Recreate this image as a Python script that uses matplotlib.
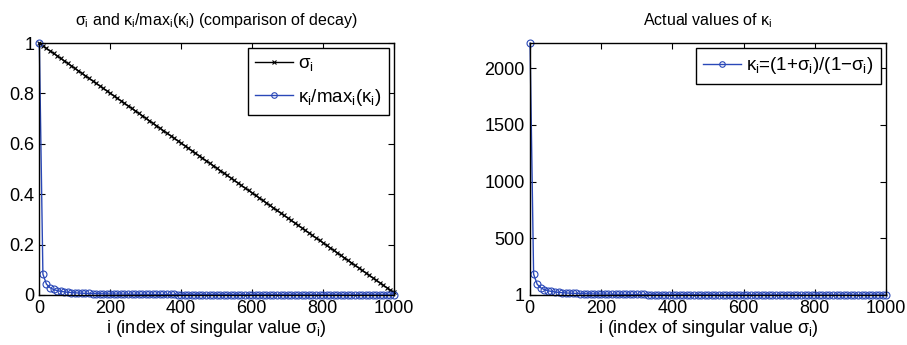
# sigma_i and kappa_i = (1+sigma_i)/(1-sigma_i)

import numpy as np
import matplotlib
matplotlib.use('Agg')
import matplotlib.pyplot as plt

plt.rcParams['font.family'] = ['Liberation Sans', 'DejaVu Sans']
plt.rcParams['mathtext.fontset'] = 'custom'
plt.rcParams['mathtext.rm'] = 'Liberation Sans'
plt.rcParams['mathtext.it'] = 'Liberation Sans'
plt.rcParams['mathtext.bf'] = 'Liberation Sans:bold'

# sampled indices (every 10th singular value plus the last one)
idx = list(range(1, 1000, 10)) + [1000]

# singular values
sigma = [0.9991, 0.9892, 0.9793, 0.9694, 0.9595, 0.9496, 0.9397, 0.9298, 0.9199, 0.9100,
         0.9001, 0.8902, 0.8803, 0.8704, 0.8605, 0.8506, 0.8407, 0.8308, 0.8209, 0.8110,
         0.8011, 0.7912, 0.7813, 0.7714, 0.7615, 0.7516, 0.7417, 0.7318, 0.7219, 0.7120,
         0.7021, 0.6922, 0.6823, 0.6724, 0.6625, 0.6526, 0.6427, 0.6328, 0.6229, 0.6130,
         0.6031, 0.5932, 0.5833, 0.5734, 0.5635, 0.5536, 0.5437, 0.5338, 0.5239, 0.5140,
         0.5041, 0.4942, 0.4843, 0.4744, 0.4645, 0.4546, 0.4447, 0.4348, 0.4249, 0.4150,
         0.4051, 0.3952, 0.3853, 0.3754, 0.3655, 0.3556, 0.3457, 0.3358, 0.3259, 0.3160,
         0.3061, 0.2962, 0.2863, 0.2764, 0.2665, 0.2566, 0.2467, 0.2368, 0.2269, 0.2170,
         0.2071, 0.1972, 0.1873, 0.1774, 0.1675, 0.1576, 0.1477, 0.1378, 0.1279, 0.1180,
         0.1081, 0.0982, 0.0883, 0.0784, 0.0685, 0.0586, 0.0487, 0.0388, 0.0289, 0.0190,
         0.0101]

sig = np.array(sigma)
kappa = (1 + sig) / (1 - sig)

blue = '#2a48b8'
fs = 13

fig = plt.figure(figsize=(9.07, 3.45), dpi=100)
ax1 = fig.add_axes([0.043, 0.145, 0.391, 0.730])
ax2 = fig.add_axes([0.584, 0.145, 0.393, 0.730])

ax1.plot(idx, sigma, '-x', color='black', lw=1, ms=3.5, mew=0.8, clip_on=False,
         label=r'$\sigma_{i}$')
ax1.plot(idx, kappa / kappa.max(), '-o', color=blue, lw=1, ms=5, mew=0.8,
         mfc='none', clip_on=False, label=r'$\kappa_{i}/\mathrm{max}_{i}(\kappa_{i})$')
ax1.set_xlim(0, 1000)
ax1.set_ylim(0, 1)
ax1.set_yticks([0, 0.2, 0.4, 0.6, 0.8, 1])
ax1.set_yticklabels(['0', '0.2', '0.4', '0.6', '0.8', '1'])
ax1.set_title(r'$\sigma_{i}$ and $\kappa_{i}/\mathrm{max}_{i}(\kappa_{i})$ (comparison of decay)',
              fontsize=11.5, pad=13)

ax2.plot(idx, kappa, '-o', color=blue, lw=1, ms=5, mew=0.8, mfc='none', clip_on=False,
         label=r'$\kappa_{i}$=(1+$\sigma_{i}$)/(1$-\sigma_{i}$)')
ax2.set_xlim(0, 1000)
ax2.set_ylim(1, kappa.max())
ax2.set_yticks([1, 500, 1000, 1500, 2000])
ax2.set_title(r'Actual values of $\kappa_{i}$', fontsize=11.5, pad=13)

for ax in (ax1, ax2):
    ax.set_xticks([0, 200, 400, 600, 800, 1000])
    ax.tick_params(direction='in', top=True, right=True, labelsize=fs, length=4, width=0.8)
    ax.set_xlabel(r'i (index of singular value $\sigma_{i}$)', fontsize=fs, labelpad=1)
    for s in ax.spines.values():
        s.set_linewidth(1)
    leg = ax.legend(loc='upper right', fontsize=13.5, fancybox=False, edgecolor='black',
                    framealpha=1, borderaxespad=0.25, handlelength=2.0, labelspacing=0.7,
                    markerscale=0.8, handletextpad=0.3, borderpad=0.4)
    leg.get_frame().set_linewidth(1)

fig.savefig('out.png', dpi=100)
